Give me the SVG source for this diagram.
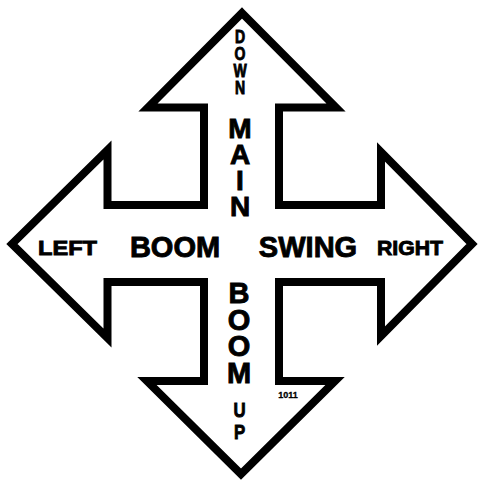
<svg xmlns="http://www.w3.org/2000/svg" width="479" height="482" viewBox="0 0 479 482">
<style>
.t{font-family:"Liberation Sans",Arial,sans-serif;font-weight:bold;fill:#000;stroke:#000;stroke-width:0.9;text-anchor:middle}
.v{font-family:"Liberation Sans",Arial,sans-serif;font-weight:bold;fill:#000;stroke:#000;stroke-width:0.9;writing-mode:vertical-rl;text-orientation:upright;text-anchor:start}
.outline{fill:#fff;stroke:#000;stroke-width:8;stroke-linejoin:miter;stroke-miterlimit:10}
</style>
<rect width="479" height="482" fill="#fff"/>
<g id="connectors"></g>
<g id="cross">
<polygon class="outline" points="242,13 336,107.5 279,107.5 279,205 381,205 381,152 472,244 381,336 381,282 279,282 279,381 335,381 241,474 147,381 204,381 204,282 107.5,282 107.5,338 12,244 107.5,150 107.5,205 204,205 204,107.5 148,107.5"/>
</g>
<g id="label-down" transform="translate(240,0) scale(0.78,1)">
<text class="v" font-size="18" x="0" y="26" letter-spacing="-3">DOWN</text>
</g>
<g id="label-main">
<text class="v" font-size="28" x="240" y="113" letter-spacing="-5">MAIN</text>
</g>
<g id="label-boom-left">
<text class="t" font-size="29" x="175" y="257">BOOM</text>
</g>
<g id="label-swing">
<text class="t" font-size="29" x="308" y="257">SWING</text>
</g>
<g id="label-left">
<text class="t" font-size="21" x="38" y="255" style="text-anchor:start" textLength="59" lengthAdjust="spacingAndGlyphs">LEFT</text>
</g>
<g id="label-right">
<text class="t" font-size="21" x="377" y="255" style="text-anchor:start" textLength="66" lengthAdjust="spacingAndGlyphs">RIGHT</text>
</g>
<g id="label-boom-bottom">
<text class="v" font-size="29" x="239" y="277" letter-spacing="-5.4">BOOM</text>
</g>
<g id="label-up" transform="translate(239.5,0) scale(0.8,1)">
<text class="v" font-size="21" x="0" y="398" letter-spacing="-0.5">UP</text>
</g>
<g id="label-code">
<text class="t" font-size="9" x="288" y="398" style="stroke-width:0.3">1011</text>
</g>
</svg>
